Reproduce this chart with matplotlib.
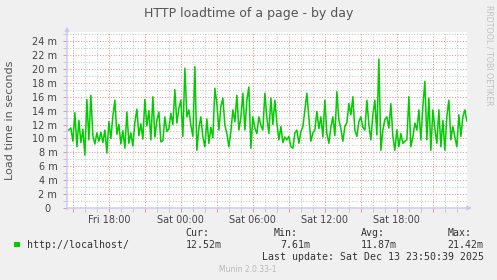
import pandas as pd
import matplotlib
matplotlib.use('Agg')
import matplotlib.pyplot as plt
import matplotlib.dates as mdates
from matplotlib.ticker import MultipleLocator, FuncFormatter
from matplotlib.patches import Rectangle

# load time in ms, 10 minute steps
load_ms = [
    11.2, 11.5, 9.6, 13.7, 8.8, 12.6, 9.4, 11.3, 7.6, 15.6,
    9.8, 16.2, 10.4, 9.2, 10.8, 9.6, 10.9, 9.4, 11.2, 7.9,
    12.4, 10.0, 13.2, 15.5, 10.6, 12.0, 9.2, 11.1, 8.6, 13.8,
    9.3, 10.8, 8.9, 12.3, 14.2, 10.4, 12.1, 9.9, 15.6, 11.8,
    14.0, 9.8, 16.0, 10.2, 12.6, 13.8, 9.5, 9.7, 13.1, 11.0,
    11.4, 13.6, 12.0, 17.0, 12.2, 14.3, 15.5, 10.3, 20.1, 13.1,
    14.1, 11.9, 10.3, 20.3, 8.3, 11.5, 13.1, 10.2, 8.8, 12.8,
    9.3, 11.6, 10.1, 17.2, 15.0, 11.2, 14.6, 15.8, 11.9, 10.7,
    8.8, 11.0, 14.1, 12.4, 16.2, 11.2, 13.0, 16.5, 11.2, 15.5,
    17.4, 8.6, 13.1, 11.5, 10.7, 13.1, 11.9, 11.2, 16.5, 13.0,
    10.7, 15.8, 12.0, 15.5, 12.2, 9.8, 11.7, 9.4, 10.2, 9.8,
    10.3, 8.8, 8.6, 10.8, 11.2, 9.3, 11.0, 11.7, 14.1, 16.5,
    13.1, 9.6, 10.8, 11.2, 13.9, 11.4, 13.1, 10.2, 15.5, 10.7,
    9.3, 11.6, 13.1, 10.4, 16.7, 12.7, 11.4, 9.6, 11.7, 12.3,
    15.0, 13.4, 16.0, 11.2, 10.3, 12.4, 13.1, 11.6, 11.2, 15.5,
    12.0, 9.8, 13.4, 15.5, 10.5, 21.4, 8.3, 11.2, 12.7, 13.1,
    11.5, 15.0, 10.3, 8.3, 11.2, 8.8, 10.7, 9.3, 9.6, 9.8,
    16.0, 8.8, 10.2, 12.2, 11.2, 14.1, 9.8, 14.6, 18.2, 9.8,
    15.8, 8.3, 14.1, 11.4, 9.3, 14.1, 8.8, 12.6, 8.3, 13.2,
    15.5, 9.8, 11.7, 10.2, 8.8, 13.4, 10.3, 13.1, 14.1, 12.5,
]
last_update = pd.Timestamp('2025-12-13 23:50:39')
times = pd.date_range(end='2025-12-13 23:50', periods=len(load_ms), freq='10min')

series_label = 'http://localhost/'
stat_names = ['Cur:', 'Min:', 'Avg:', 'Max:']
stat_values = ['12.52m', '7.61m', '11.87m', '21.42m']

bg = '#f0f0f0'
major_c = '#e49696'
minor_c = '#c8c8c8'
axis_c = '#c8c8f4'
text_c = '#555555'

W, H = 497, 280
fig = plt.figure(figsize=(W / 100, H / 100), dpi=100, facecolor=bg)
ax = fig.add_axes([67 / W, 72 / H, 400 / W, 176 / H])
ax.set_facecolor('white')

ax.plot(times, load_ms, color='#00cc00', lw=1.1, zorder=3)

ax.set_xlim(last_update - pd.Timedelta(seconds=400 * 300), last_update)
ax.set_ylim(0, 25.3)

# grid: red every 2 m / 3 h, grey every 1 m / 1 h
ax.yaxis.set_major_locator(MultipleLocator(2))
ax.yaxis.set_minor_locator(MultipleLocator(1))
ax.yaxis.set_major_formatter(FuncFormatter(lambda v, p: '0  ' if v == 0 else '%d m' % v))
ax.xaxis.set_major_locator(mdates.HourLocator(byhour=range(0, 24, 3)))
ax.xaxis.set_minor_locator(mdates.HourLocator())
ax.xaxis.set_major_formatter(FuncFormatter(
    lambda v, p: mdates.num2date(v).strftime('%a %H:%M') if mdates.num2date(v).hour % 6 == 0 else ''))

ax.grid(which='minor', color=minor_c, lw=0.75, linestyle=(0, (1, 1.6)))
ax.grid(which='major', color=major_c, lw=0.75, linestyle=(0, (1, 1.6)))
ax.set_axisbelow(True)

ax.tick_params(which='major', length=3, width=0.7, color=major_c, labelsize=7, labelcolor='#444444')
ax.tick_params(which='minor', length=3, width=0.7, color=minor_c)
ax.tick_params(axis='y', pad=4)
ax.tick_params(axis='x', pad=2)

for s in ax.spines.values():
    s.set_visible(False)
ax.annotate('', xy=(1.012, 0), xytext=(0, 0), xycoords='axes fraction',
            arrowprops=dict(arrowstyle='-|>', color=axis_c, lw=1, mutation_scale=6, shrinkA=0, shrinkB=0),
            annotation_clip=False)
ax.annotate('', xy=(0, 1.03), xytext=(0, -0.01), xycoords='axes fraction',
            arrowprops=dict(arrowstyle='-|>', color=axis_c, lw=1, mutation_scale=6, shrinkA=0, shrinkB=0),
            annotation_clip=False)

fig.text(248.5 / W, 1 - 14 / H, 'HTTP loadtime of a page - by day', ha='center', va='center',
         fontsize=9, color=text_c)
fig.text(10 / W, 1 - 120 / H, 'Load time in seconds', rotation=90, ha='center', va='center',
         fontsize=8.1, color=text_c)
fig.text(488.5 / W, 1 - 5 / H, 'RRDTOOL / TOBI OETIKER', rotation=270, ha='center', va='top',
         fontsize=5.7, color='#c0c0c0')

# legend
mono = dict(family='DejaVu Sans Mono', fontsize=7.1, color='#333333', va='center', ha='left')
fig.patches.append(Rectangle((14 / W, 1 - 247 / H), 5.5 / W, 5.5 / H, transform=fig.transFigure,
                             facecolor='#00cc00', edgecolor='none'))
fig.text(26.7 / W, 1 - 245 / H, series_label, **mono)
name_x = [185.7, 274, 360.7, 447.7]
value_x = [185.7, 280, 360.7, 447.7]
for nm, nx, val, vx in zip(stat_names, name_x, stat_values, value_x):
    fig.text(nx / W, 1 - 233 / H, nm, **mono)
    fig.text(vx / W, 1 - 245 / H, val, **mono)
fig.text(261.7 / W, 1 - 257.5 / H, 'Last update: Sat Dec 13 23:50:39 2025', **mono)
fig.text(248 / W, 1 - 270 / H, 'Munin 2.0.33-1', ha='center', va='center', fontsize=5.5, color='#b8b8b8')

fig.savefig('out.png', dpi=100, facecolor=bg)
